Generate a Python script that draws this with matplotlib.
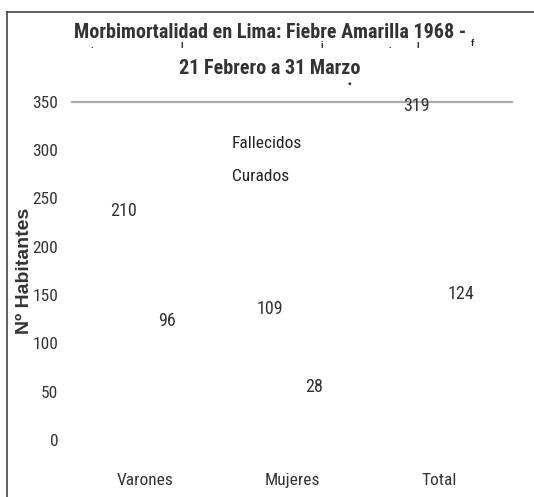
import matplotlib
matplotlib.use("Agg")
import matplotlib.pyplot as plt
from matplotlib import font_manager as fm
from matplotlib.font_manager import FontProperties
from matplotlib.lines import Line2D
import numpy as np

categories = ["Varones", "Mujeres", "Total"]
fallecidos = [210, 109, 319]
curados = [96, 28, 124]
series_names = ["Fallecidos", "Curados"]
y_ticks = [0, 50, 100, 150, 200, 250, 300, 350]
title = "Morbimortalidad en Lima: Fiebre Amarilla 1968 -\n21 Febrero a 31 Marzo"
ylabel = "Nº Habitantes"


def pick(bold):
    cond = ("condensed", "semi-condensed", "extra-condensed", "ultra-condensed")
    prefs = ["Liberation Sans Narrow", "Roboto Condensed", "Open Sans Condensed",
             "DejaVu Sans Condensed", "Noto Sans Condensed", "Roboto", "Open Sans",
             "DejaVu Sans", "Noto Sans"]
    for name in prefs:
        for f in fm.fontManager.ttflist:
            if f.name != name or f.style != "normal":
                continue
            w = f.weight if isinstance(f.weight, int) else (700 if "bold" in str(f.weight) else 400)
            if bold and w < 600:
                continue
            if not bold and w != 400:
                continue
            narrowish = ("Narrow" in name or "Condensed" in name or
                         str(f.stretch) in cond or "Condensed" in f.fname or "Narrow" in f.fname)
            if narrowish:
                return FontProperties(fname=f.fname)
    return None


reg = pick(False)
bld = pick(True)
if reg is None:
    reg = FontProperties(family="Liberation Sans")
if bld is None:
    bld = FontProperties(family="Liberation Sans", weight="bold")


def fp(base, size):
    p = base.copy()
    p.set_size(size)
    return p


fig = plt.figure(figsize=(5.34, 4.97), dpi=100)
ax = fig.add_axes([0.135, 0.115, 0.824, 0.68])

x = np.arange(len(categories))
w = 0.27
b1 = ax.bar(x - 0.15, fallecidos, w, color="white", label=series_names[0])
b2 = ax.bar(x + 0.15, curados, w, color="white", label=series_names[1])
for bars in (b1, b2):
    labs = ax.bar_label(bars, padding=12, color="#333333")
    for t in labs:
        t.set_fontproperties(fp(reg, 13))

ax.set_xlim(-0.5, 2.5)
ax.set_ylim(0, 350)
ax.set_yticks(y_ticks)
ax.set_xticks(x)
ax.set_xticklabels(categories)
for sp in ["left", "right", "bottom"]:
    ax.spines[sp].set_visible(False)
ax.spines["top"].set_color("#aaaaaa")
ax.spines["top"].set_linewidth(1.6)
ax.tick_params(axis="both", length=0, colors="#333333")
ax.tick_params(axis="y", pad=10)
ax.tick_params(axis="x", pad=24)
for lab in ax.get_xticklabels() + ax.get_yticklabels():
    lab.set_fontproperties(fp(reg, 12.5))

ax.set_ylabel(ylabel, family="Liberation Sans", fontweight="bold", fontsize=14,
              color="#333333", labelpad=2)
ax.yaxis.set_label_coords(-0.088, 0.5)

leg = ax.legend(loc="upper left", bbox_to_anchor=(0.265, 0.945), frameon=False,
                prop=fp(reg, 12.5), labelspacing=1.0,
                handlelength=1.0, handletextpad=0.6)
for t in leg.get_texts():
    t.set_color("#222222")

fig.text(0.505, 0.898, title, ha="center", va="center", fontproperties=fp(bld, 14.5),
         color="#333333", linespacing=2.1)

# stray glyph fragments in the title area
for (px, py, s) in [(92, 46, "."), (182, 46, "I"), (322, 46, "i"), (390, 46, "."),
                    (418, 46, "I"), (472, 43, "f"), (350, 85, "*")]:
    fig.text(px / 534, 1 - py / 497, s, ha="center", va="center",
             fontsize=6.5, fontweight="bold", color="#222222", family="Liberation Sans")

# figure border (top and left only)
fig.add_artist(Line2D([7 / 534, 1.0], [1 - 12 / 497, 1 - 12 / 497], transform=fig.transFigure,
                      color="#444444", lw=1.2))
fig.add_artist(Line2D([7 / 534, 7 / 534], [0, 1 - 12 / 497], transform=fig.transFigure,
                      color="#444444", lw=1.2))

fig.savefig("out.png", dpi=100)
